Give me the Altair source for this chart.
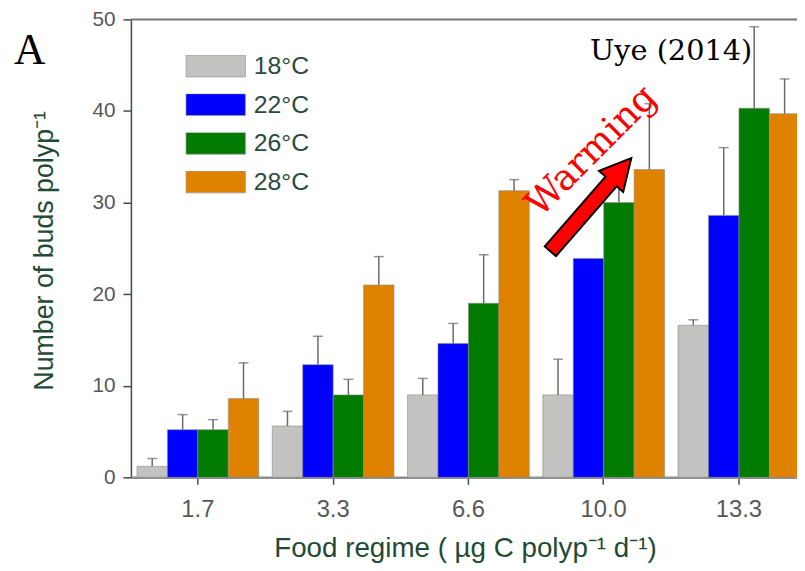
import altair as alt
import pandas as pd

# ---- data ----
food = ["1.7", "3.3", "6.6", "10.0", "13.3"]
temps = ["18°C", "22°C", "26°C", "28°C"]
colors = ["#c2c2c0", "#0000ff", "#007b00", "#df8200"]

mean_18 = [1.2, 5.6, 9.0, 9.0, 16.6]
mean_22 = [5.2, 12.3, 14.6, 23.9, 28.6]
mean_26 = [5.2, 9.0, 19.0, 30.0, 40.3]
mean_28 = [8.6, 21.0, 31.3, 33.6, 39.7]

sd_18 = [0.85, 1.6, 1.8, 3.9, 0.6]
sd_22 = [1.65, 3.1, 2.2, None, 7.4]
sd_26 = [1.1, 1.7, 5.3, 2.6, 8.9]
sd_28 = [3.9, 3.1, 1.2, 7.2, 3.8]

means = [mean_18, mean_22, mean_26, mean_28]
sds = [sd_18, sd_22, sd_26, sd_28]

rows = []
for t, m_list, s_list in zip(temps, means, sds):
    for f, m, s in zip(food, m_list, s_list):
        rows.append({"food": f, "temp": t, "mean": m, "sd": s})
df = pd.DataFrame(rows)

FONT = "Liberation Sans"
AXIS_DARK = "#3e4e48"
TITLE_COL = "#1f4a35"
LABEL_COL = "#585858"

x_enc = alt.X(
    "food:N",
    sort=food,
    scale=alt.Scale(range=[0, 681], paddingInner=0.1, paddingOuter=0.045),
    axis=alt.Axis(
        labelAngle=0, tickSize=7, tickColor=AXIS_DARK, tickWidth=1.5,
        domainColor="#8f8f8f", domainWidth=2.5,
        labelFont=FONT, labelFontSize=24, labelColor=LABEL_COL, labelPadding=14,
        title="Food regime ( µg C polyp⁻¹ d⁻¹)", titleFont=FONT, titleFontSize=28,
        titleColor=TITLE_COL, titleFontWeight="normal",
        titleX=337, titleY=80, titleAlign="center", titleBaseline="alphabetic",
    ),
)
xoff = alt.XOffset("temp:N", sort=temps)

y_scale = alt.Scale(domain=[0, 50], nice=False)

bars = alt.Chart(df).mark_bar(stroke="#8a8a8a", strokeWidth=0.6).encode(
    x=x_enc,
    xOffset=xoff,
    y=alt.Y(
        "mean:Q",
        scale=y_scale,
        axis=alt.Axis(
            values=[0, 10, 20, 30, 40, 50], grid=False, tickSize=8,
            tickColor=AXIS_DARK, tickWidth=1.5, domainColor=AXIS_DARK, domainWidth=1.5,
            labelFont=FONT, labelFontSize=21, labelColor=LABEL_COL, labelPadding=8,
            title="Number of buds polyp⁻¹", titleFont=FONT, titleFontSize=27,
            titleColor=TITLE_COL, titleFontWeight="normal", titleAngle=270,
            titleX=-87, titleY=233, titleAlign="center", titleBaseline="middle",
        ),
    ),
    color=alt.Color(
        "temp:N",
        sort=temps,
        scale=alt.Scale(domain=temps, range=colors),
        legend=alt.Legend(
            orient="none", legendX=55, legendY=36, title=None,
            symbolType="M-1,-0.367L1,-0.367L1,0.367L-1,0.367Z", symbolSize=3600,
            symbolStrokeWidth=0.8, symbolStrokeColor="#9a9a9a", symbolOpacity=1,
            labelFont=FONT, labelFontSize=25, labelColor="#2b4a40", labelOffset=8,
            rowPadding=14, clipHeight=22, padding=0,
        ),
    ),
)

err_base = alt.Chart(df).transform_filter("isValid(datum.sd)").transform_calculate(
    upper="datum.mean + datum.sd"
)
err_rules = err_base.mark_rule(color="#6a6a6a", strokeWidth=1.5).encode(
    x=alt.X("food:N", sort=food),
    xOffset=xoff,
    y="mean:Q",
    y2="upper:Q",
)
err_caps = err_base.mark_tick(color="#6a6a6a", size=10, thickness=1.5).encode(
    x=alt.X("food:N", sort=food),
    xOffset=xoff,
    y="upper:Q",
)

frame = alt.Chart(pd.DataFrame({"v": [50]})).mark_rule(color="#777777", strokeWidth=2).encode(
    y="v:Q"
)

one = pd.DataFrame({"k": [0]})
label_a = alt.Chart(one).mark_text(
    text="A", font="Liberation Serif", fontSize=44, color="black",
    align="center", baseline="alphabetic",
).encode(x=alt.value(-102), y=alt.value(45))

label_uye = alt.Chart(one).mark_text(
    text="Uye (2014)", font="DejaVu Serif", fontSize=29, color="black",
    align="center", baseline="alphabetic",
).encode(x=alt.value(545), y=alt.value(41))

label_warm = alt.Chart(one).mark_text(
    text="Warming", font="DejaVu Serif", fontSize=37, color="#ff0000",
    align="center", baseline="middle", angle=315,
).encode(x=alt.value(465), y=alt.value(133))

arrow = alt.Chart(one).mark_point(
    shape="M-1,-0.12L0.5,-0.12L0.5,-0.26L1,0L0.5,0.26L0.5,0.12L-1,0.12Z",
    size=15500, filled=True, fill="#ff0000", stroke="black", strokeWidth=2,
    opacity=1, angle=311,
).encode(x=alt.value(464), y=alt.value(187))

chart = alt.layer(
    bars, err_rules, err_caps, frame, arrow, label_warm, label_uye, label_a
).properties(
    width=672,
    height=462,
    autosize=alt.AutoSizeParams(type="none"),
    padding={"left": 124, "top": 9, "right": 0, "bottom": 90},
).configure_view(stroke=None)

chart.save("out.html", embed_options={"renderer": "svg", "actions": False})
